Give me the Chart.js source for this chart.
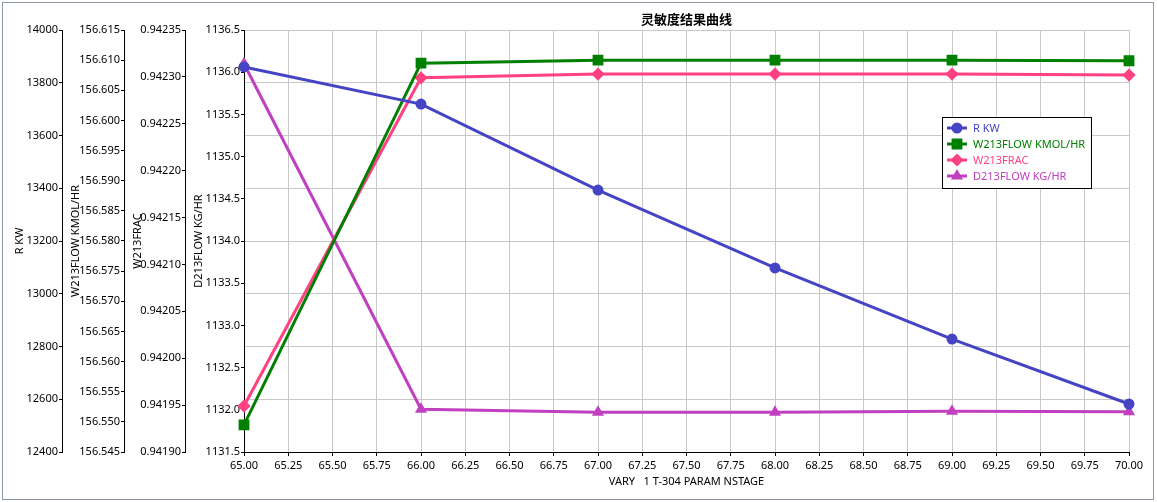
<!DOCTYPE html>
<html>
<head>
<meta charset="utf-8">
<script src="https://cdn.jsdelivr.net/npm/chart.js@4.4.1/dist/chart.umd.min.js"></script>
<style>
html, body { margin:0; padding:0; background:#fff; }
#wrap { width:1157px; height:502px; position:relative; }
</style>
</head>
<body>
<div id="wrap"><canvas id="sensChart"></canvas></div>
<script>
// x values (NSTAGE) and the four result curves
const stages = [65, 66, 67, 68, 69, 70];
const rKW = [13860, 13719, 13393, 13098, 12828, 12582];
const w213Flow = [156.5495, 156.6095, 156.6100, 156.6100, 156.6100, 156.6099];
const w213Frac = [0.941949, 0.942299, 0.942303, 0.942303, 0.942303, 0.942302];
const d213Flow = [1136.10, 1132.006, 1131.970, 1131.972, 1131.982, 1131.977];

const seriesNames = ["R KW", "W213FLOW KMOL/HR", "W213FRAC", "D213FLOW KG/HR"];
const seriesColours = ["#4444C4", "#008000", "#FF4081", "#C040C0"];
const seriesMarkers = ["circle", "rect", "rectRot", "triangle"];
const markerSizes = [4, 5.5, 4.5, 4];

// tick labels of each axis
const xTicks = [65.00, 65.25, 65.50, 65.75, 66.00, 66.25, 66.50, 66.75, 67.00, 67.25, 67.50,
                67.75, 68.00, 68.25, 68.50, 68.75, 69.00, 69.25, 69.50, 69.75, 70.00];
const rTicks = [12400, 12600, 12800, 13000, 13200, 13400, 13600, 13800, 14000];
const flowTicks = [156.545, 156.550, 156.555, 156.560, 156.565, 156.570, 156.575, 156.580,
                   156.585, 156.590, 156.595, 156.600, 156.605, 156.610, 156.615];
const fracTicks = [0.94190, 0.94195, 0.94200, 0.94205, 0.94210, 0.94215, 0.94220, 0.94225, 0.94230, 0.94235];
const dTicks = [1131.5, 1132.0, 1132.5, 1133.0, 1133.5, 1134.0, 1134.5, 1135.0, 1135.5, 1136.0, 1136.5];

const chartTitle = "灵敏度结果曲线";
const xTitle = "VARY   1 T-304 PARAM NSTAGE";

const FONT = "'Noto Sans', 'DejaVu Sans', sans-serif";
const GRID = "#c8c8c8";

//builds one of the four left hand axes
function LeftAxis(ticks, title, width, weight, decimals, drawGrid)
{
	return {
		type: "linear",
		position: "left",
		weight: weight,
		min: ticks[0],
		max: ticks[ticks.length - 1],
		afterBuildTicks: s => { s.ticks = ticks.map(v => ({value: v})); },
		afterFit: s => { s.width = width; },
		title: { display: true, text: title, color: "#000", font: {size: 11, family: FONT}, padding: {top: 7, bottom: 0} },
		ticks: { color: "#000", font: {size: 11, family: FONT}, padding: 1, autoSkip: false,
			callback: v => Number(v).toFixed(decimals) },
		border: { display: true, color: "#000", width: 1 },
		grid: { drawOnChartArea: drawGrid, color: GRID, tickColor: "#000", tickLength: 3 }
	};
}

function MakeDataset(i, yArray, axisID)
{
	return {
		label: seriesNames[i],
		data: stages.map((s, j) => ({x: s, y: yArray[j]})),
		yAxisID: axisID,
		borderColor: seriesColours[i],
		backgroundColor: seriesColours[i],
		borderWidth: 3,
		pointStyle: seriesMarkers[i],
		pointRadius: markerSizes[i],
		pointHoverRadius: markerSizes[i],
		tension: 0,
		clip: false
	};
}

// title drawn over the middle of the plot area
const titlePlugin = {
	id: "centreTitle",
	afterDraw(chart) {
		const ctx = chart.ctx, a = chart.chartArea;
		ctx.save();
		ctx.fillStyle = "#000";
		ctx.font = "bold 13px 'Noto Sans CJK SC', sans-serif";
		ctx.textAlign = "center";
		ctx.textBaseline = "middle";
		ctx.fillText(chartTitle, (a.left + a.right) / 2, 19);
		ctx.restore();
	}
};

// boxed legend sitting inside the plot, top right
const legendPlugin = {
	id: "boxLegend",
	afterDraw(chart) {
		const ctx = chart.ctx;
		const bx = 942, by = 117, bw = 149, bh = 71;
		ctx.save();
		ctx.fillStyle = "#fff";
		ctx.fillRect(bx, by, bw, bh);
		ctx.strokeStyle = "#000";
		ctx.lineWidth = 1;
		ctx.strokeRect(bx + 0.5, by + 0.5, bw, bh);
		ctx.font = "11px " + FONT;
		ctx.textBaseline = "middle";
		for (let i = 0; i < seriesNames.length; i++) {
			const y = by + 11 + i * 16;
			ctx.strokeStyle = seriesColours[i];
			ctx.fillStyle = seriesColours[i];
			ctx.lineWidth = 3;
			ctx.beginPath();
			ctx.moveTo(947, y);
			ctx.lineTo(967, y);
			ctx.stroke();
			Chart.helpers.drawPoint(ctx, {pointStyle: seriesMarkers[i], radius: markerSizes[i], rotation: 0, borderWidth: 1}, 957, y);
			ctx.fillStyle = seriesColours[i];
			ctx.fillText(seriesNames[i], 973, y + 0.5);
		}
		ctx.restore();
	}
};

// thin grey frame round the whole picture
const framePlugin = {
	id: "frame",
	afterDraw(chart) {
		const ctx = chart.ctx;
		ctx.save();
		ctx.strokeStyle = "#8e97a4";
		ctx.lineWidth = 1;
		ctx.strokeRect(2.5, 2.5, 1151, 497);
		ctx.restore();
	}
};

new Chart("sensChart", {
	type: "line",
	data: {
		datasets: [
			MakeDataset(0, rKW, "yR"),
			MakeDataset(1, w213Flow, "yFlow"),
			MakeDataset(2, w213Frac, "yFrac"),
			MakeDataset(3, d213Flow, "yD")
		]
	},
	options: {
		responsive: true,
		maintainAspectRatio: false,
		animation: false,
		layout: { padding: {left: 6, top: 30, right: 28, bottom: 8} },
		plugins: {
			legend: {display: false},
			title: {display: false},
			tooltip: {enabled: false}
		},
		scales: {
			x: {
				type: "linear",
				position: "bottom",
				min: stages[0],
				max: stages[stages.length - 1],
				afterBuildTicks: s => { s.ticks = xTicks.map(v => ({value: v})); },
				afterFit: s => { s.height = 42; },
				ticks: { color: "#000", font: {size: 11, family: FONT}, padding: 3, maxRotation: 0, autoSkip: false,
					callback: v => Number(v).toFixed(2) },
				title: { display: true, text: xTitle, color: "#000", font: {size: 11, family: FONT}, padding: {top: 0, bottom: 6} },
				border: { display: true, color: "#000", width: 1 },
				grid: { color: GRID, tickColor: "#000", tickLength: 4 }
			},
			yR: LeftAxis(rTicks, "R KW", 56, 4, 0, true),
			yFlow: LeftAxis(flowTicks, "W213FLOW KMOL/HR", 62, 3, 3, false),
			yFrac: LeftAxis(fracTicks, "W213FRAC", 61, 2, 5, false),
			yD: LeftAxis(dTicks, "D213FLOW KG/HR", 59, 1, 1, false)
		}
	},
	plugins: [titlePlugin, legendPlugin, framePlugin]
});
</script>
</body>
</html>
